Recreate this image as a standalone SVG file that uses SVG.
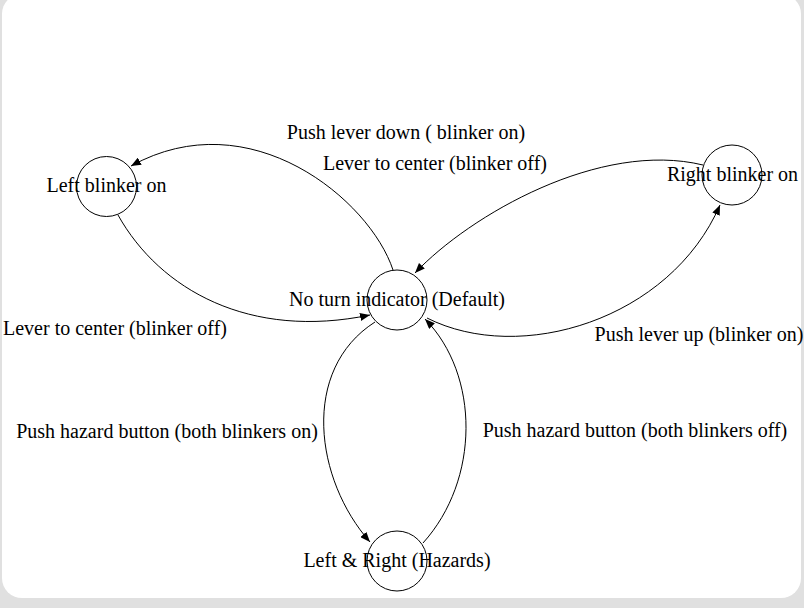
<svg xmlns="http://www.w3.org/2000/svg" width="804" height="608" viewBox="0 0 804 608">
<style>
.bg{fill:#e0e0e0}
.card{fill:#ffffff}
.node{fill:none;stroke:#000;stroke-width:1}
.edge{fill:none;stroke:#000;stroke-width:1}
text{font-family:"Liberation Serif","Times New Roman",serif;font-size:20px;fill:#000;text-anchor:middle}
</style>
<defs>
<marker id="arr" markerWidth="10" markerHeight="8" refX="10" refY="4" orient="auto" markerUnits="userSpaceOnUse">
<path d="M0,0 L10,4 L0,8 z" fill="#000"/>
</marker>
</defs>
<rect class="bg" x="0" y="0" width="804" height="608"/>
<rect class="card" x="2" y="-6" width="799" height="604" rx="20" ry="20"/>
<g id="connectors">
<path class="edge" d="M393,270 C370,200 250,100 131,166" marker-end="url(#arr)"/>
<text x="406" y="139">Push lever down ( blinker on)</text>
<path class="edge" d="M118,215 C160,290 250,340 370,315" marker-end="url(#arr)"/>
<text x="115" y="335">Lever to center (blinker off)</text>
<path class="edge" d="M703,165 C600,140 470,215 415,273" marker-end="url(#arr)"/>
<text x="435" y="170">Lever to center (blinker off)</text>
<path class="edge" d="M427,318 C520,365 670,320 720,205" marker-end="url(#arr)"/>
<text x="699" y="341">Push lever up (blinker on)</text>
<path class="edge" d="M375,322 C300,370 315,480 370,542" marker-end="url(#arr)"/>
<text x="167" y="438">Push hazard button (both blinkers on)</text>
<path class="edge" d="M423,543 C480,480 480,375 425,319" marker-end="url(#arr)"/>
<text x="635" y="437">Push hazard button (both blinkers off)</text>
</g>
<g id="node-left">
<circle class="node" cx="106.5" cy="186.5" r="30"/>
<text x="106.5" y="192">Left blinker on</text>
</g>
<g id="node-right">
<circle class="node" cx="732" cy="175" r="30"/>
<text x="732.5" y="181">Right blinker on</text>
</g>
<g id="node-default">
<circle class="node" cx="397" cy="300" r="30"/>
<text x="397" y="306">No turn indicator (Default)</text>
</g>
<g id="node-hazards">
<circle class="node" cx="397" cy="561" r="30"/>
<text x="397" y="567">Left &amp; Right (Hazards)</text>
</g>
</svg>
